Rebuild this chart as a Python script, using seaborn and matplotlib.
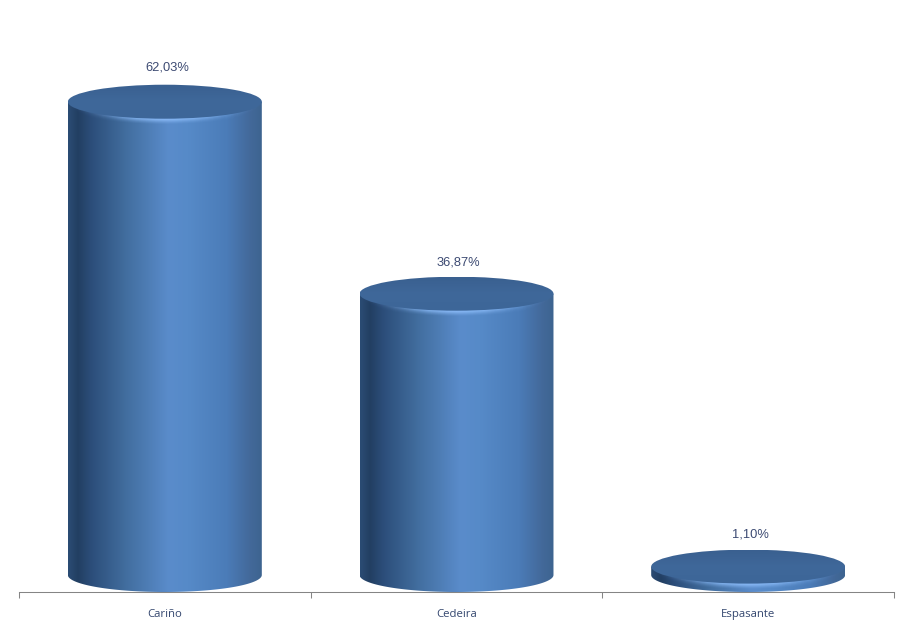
import numpy as np
import pandas as pd
import matplotlib
matplotlib.use("Agg")
import matplotlib.pyplot as plt
from matplotlib.colors import LinearSegmentedColormap
from matplotlib.patches import Polygon, Ellipse
import seaborn as sns

categories = ["Cariño", "Cedeira", "Espasante"]
values = [62.03, 36.87, 1.10]
labels = ["62,03%", "36,87%", "1,10%"]

TEXT_VALUE = "#3c4a72"
TEXT_CAT = "#33466e"
AXIS = "#858585"
W, H = 912, 625
AX_L, AX_R, AX_B = 19, 894, 592
PX_PER_UNIT = 7.63
ELL_PX = 17.0
LABEL_OFFSETS_PX = (17, 14, 15)
LABEL_SHIFT_PX = 2

sns.set_theme(style="white")
plt.rcParams["font.family"] = ["Liberation Sans", "DejaVu Sans"]

fig = plt.figure(figsize=(W / 100, H / 100), dpi=100, facecolor="white")
ax = fig.add_axes([AX_L / W, 1 - AX_B / H, (AX_R - AX_L) / W, AX_B / H])
df = pd.DataFrame({"Municipio": categories, "Porcentaje": values})
sns.barplot(data=df, x="Municipio", y="Porcentaje", ax=ax, width=0.665,
            color="#4a78b0", saturation=1, errorbar=None, zorder=1)

ymin = -ELL_PX / PX_PER_UNIT
ax.set_xlim(-0.5, 2.5)
ax.set_ylim(ymin, ymin + AX_B / PX_PER_UNIT)
ry = ELL_PX / PX_PER_UNIT

side = LinearSegmentedColormap.from_list("side", [
    (0.00, "#2b4c74"), (0.05, "#223f62"), (0.12, "#2c4e7a"), (0.30, "#426e9f"),
    (0.52, "#5a8ccb"), (0.62, "#568ac8"), (0.82, "#4b7cb8"), (0.94, "#43699a"),
    (1.00, "#3d6490")])
top = LinearSegmentedColormap.from_list("top", ["#3d6698", "#3f689a", "#3a6090"])
grad = np.linspace(0, 1, 256).reshape(1, -1)
vgrad = np.linspace(0, 1, 64).reshape(-1, 1)
t = np.linspace(0, np.pi, 120)

for bar in list(ax.patches):
    x0, w, v = bar.get_x(), bar.get_width(), bar.get_height()
    xc, rx = x0 + w / 2, w / 2
    # cylinder body: straight sides closed by the lower half of the base ellipse
    px = np.r_[x0, xc - rx * np.cos(t), x0 + w]
    py = np.r_[v, -ry * np.sin(t), v]
    im = ax.imshow(grad, cmap=side, aspect="auto", zorder=2,
                   extent=[x0, x0 + w, -ry, v], interpolation="bilinear")
    body = Polygon(np.c_[px, py], closed=True, transform=ax.transData,
                   fc="none", ec="none")
    ax.add_patch(body)
    im.set_clip_path(body)
    # soft light rim below the lid, built from stacked shifted ellipses
    for off, strength in zip((5, 4, 3, 2, 1), (0.12, 0.2, 0.3, 0.42, 0.55)):
        glow = np.zeros((1, 256, 4))
        glow[..., :3] = (0.55, 0.74, 0.98)
        glow[..., 3] = strength * np.exp(-((np.linspace(-1, 1, 256) / 0.5) ** 2))
        g = ax.imshow(glow, aspect="auto", zorder=3,
                      extent=[x0, x0 + w, v - ry - 6 / PX_PER_UNIT, v + ry],
                      interpolation="bilinear")
        rim = Ellipse((xc, v - off / PX_PER_UNIT), w, 2 * ry,
                      transform=ax.transData, fc="none", ec="none")
        ax.add_patch(rim)
        g.set_clip_path(rim)
    # lid
    lid = Ellipse((xc, v), w, 2 * ry, transform=ax.transData, fc="none", ec="none")
    ax.add_patch(lid)
    li = ax.imshow(vgrad, cmap=top, aspect="auto", zorder=4, origin="lower",
                   extent=[x0, x0 + w, v - ry, v + ry], interpolation="bilinear")
    li.set_clip_path(lid)
    bar.set_visible(False)

ax.set_xlim(-0.5, 2.5)
ax.set_ylim(ymin, ymin + AX_B / PX_PER_UNIT)

for i, (v, s, off) in enumerate(zip(values, labels, LABEL_OFFSETS_PX)):
    ax.annotate(s, (i, v + ry), xytext=(LABEL_SHIFT_PX, off), textcoords="offset pixels",
                ha="center", va="center", fontsize=9.3, color=TEXT_VALUE, zorder=5)

sns.despine(ax=ax, left=True, top=True, right=True, bottom=False)
ax.spines["bottom"].set_color(AXIS)
ax.spines["bottom"].set_linewidth(0.75)
ax.set_xlabel("")
ax.set_ylabel("")
ax.set_yticks([])
ax.set_xticks(range(3))
ax.set_xticklabels(categories, fontsize=8.2, color=TEXT_CAT, family=["Open Sans", "DejaVu Sans"])
ax.tick_params(axis="x", which="major", length=0, pad=12)
ax.set_xticks([-0.5, 0.5, 1.5, 2.5], minor=True)
ax.tick_params(axis="x", which="minor", length=4, width=0.75, color=AXIS, bottom=True)
ax.patch.set_alpha(0)

fig.savefig("out.png", dpi=100, facecolor="white")
